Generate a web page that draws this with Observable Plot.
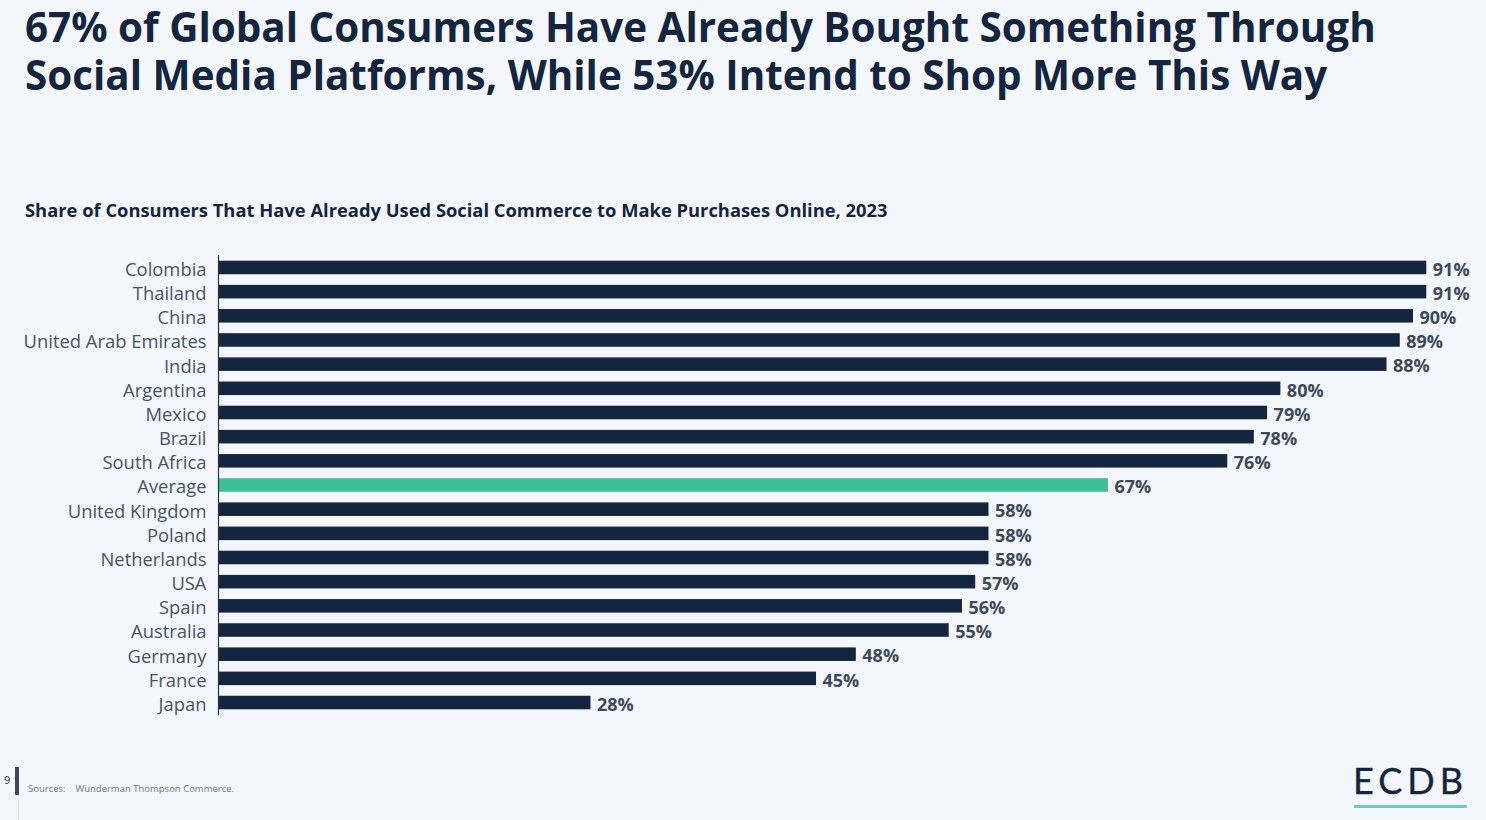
<!DOCTYPE html>
<html>
<head>
<meta charset="utf-8">
<script src="https://cdn.jsdelivr.net/npm/d3@7"></script>
<script src="https://cdn.jsdelivr.net/npm/@observablehq/plot@0.6"></script>
<style>
  html, body { margin: 0; padding: 0; }
  body { width: 1486px; height: 820px; background: #f3f7fb; position: relative; overflow: hidden; font-family: "Open Sans", sans-serif; }
  .title { position: absolute; left: 25px; font-size: 40.4px; line-height: 48px; height: 48px; font-weight: 700; color: #13253f; margin: 0; white-space: nowrap; }
  #title1 { top: 3px; }
  #title2 { top: 51px; }
  #subtitle { position: absolute; left: 25px; top: 198px; font-size: 18.35px; line-height: 24px; font-weight: 700; color: #13253f; white-space: nowrap; }
  #chart { position: absolute; left: 0; top: 245px; }
  #pagenum { position: absolute; left: 4px; top: 772px; font-size: 11px; color: #333; }
  #bar1 { position: absolute; left: 15px; top: 767px; width: 4px; height: 28px; background: #3d4a5c; }
  #bar2 { position: absolute; left: 18px; top: 795px; width: 1px; height: 25px; background: #dfe4ea; }
  #source { position: absolute; left: 28px; top: 782px; font-size: 9.5px; line-height: 14px; color: #6b7787; white-space: pre; }
  #logo { position: absolute; left: 1353px; top: 758px; font-family: Lato, sans-serif; font-size: 36px; line-height: 44px; color: #13253f; letter-spacing: 5px; -webkit-text-stroke: 0.4px #13253f; }
  #logoline { position: absolute; left: 1354px; top: 805px; width: 113px; height: 3px; background: #70cdb0; }
</style>
</head>
<body>
<div class="title" id="title1">67% of Global Consumers Have Already Bought Something Through</div>
<div class="title" id="title2">Social Media Platforms, While 53% Intend to Shop More This Way</div>
<div id="subtitle">Share of Consumers That Have Already Used Social Commerce to Make Purchases Online, 2023</div>
<div id="chart"></div>
<div id="pagenum">9</div>
<div id="bar1"></div>
<div id="bar2"></div>
<div id="source">Sources:    Wunderman Thompson Commerce.</div>
<div id="logo">ECDB</div>
<div id="logoline"></div>
<script>
const countries = ["Colombia","Thailand","China","United Arab Emirates","India","Argentina","Mexico","Brazil","South Africa","Average","United Kingdom","Poland","Netherlands","USA","Spain","Australia","Germany","France","Japan"];
const values = [91,91,90,89,88,80,79,78,76,67,58,58,58,57,56,55,48,45,28];
const highlight = "Average";

const data = countries.map((c, i) => ({country: c, value: values[i]}));

const chart = Plot.plot({
  width: 1486,
  height: 480,
  marginTop: 10,
  marginBottom: 10,
  marginLeft: 219,
  marginRight: 0,
  style: {background: "transparent", color: "#3d4a5c", fontFamily: "'Open Sans', sans-serif", overflow: "visible"},
  x: {domain: [0, 95.5], axis: null},
  y: {domain: countries, paddingInner: 0.44, paddingOuter: 0.236, round: false, label: null},
  marks: [
    Plot.barX(data.filter(d => d.country !== highlight), {x: "value", y: "country", fill: "#13253f"}),
    Plot.barX(data.filter(d => d.country === highlight), {x: "value", y: "country", fill: "#3dbf98"}),
    Plot.ruleX([0], {stroke: "#2b3442", strokeWidth: 1.2, dx: -1}),
    Plot.axisY({tickSize: 0, tickPadding: 13, fontSize: 18.4, dy: 2, label: null, fill: "#44546a"}),
    Plot.text(data, {x: "value", y: "country", text: d => d.value + "%", textAnchor: "start", dx: 6, dy: 2, fontSize: 18, fontWeight: "bold", fill: "#3d4a5c"})
  ]
});
document.getElementById("chart").appendChild(chart);
</script>
</body>
</html>
